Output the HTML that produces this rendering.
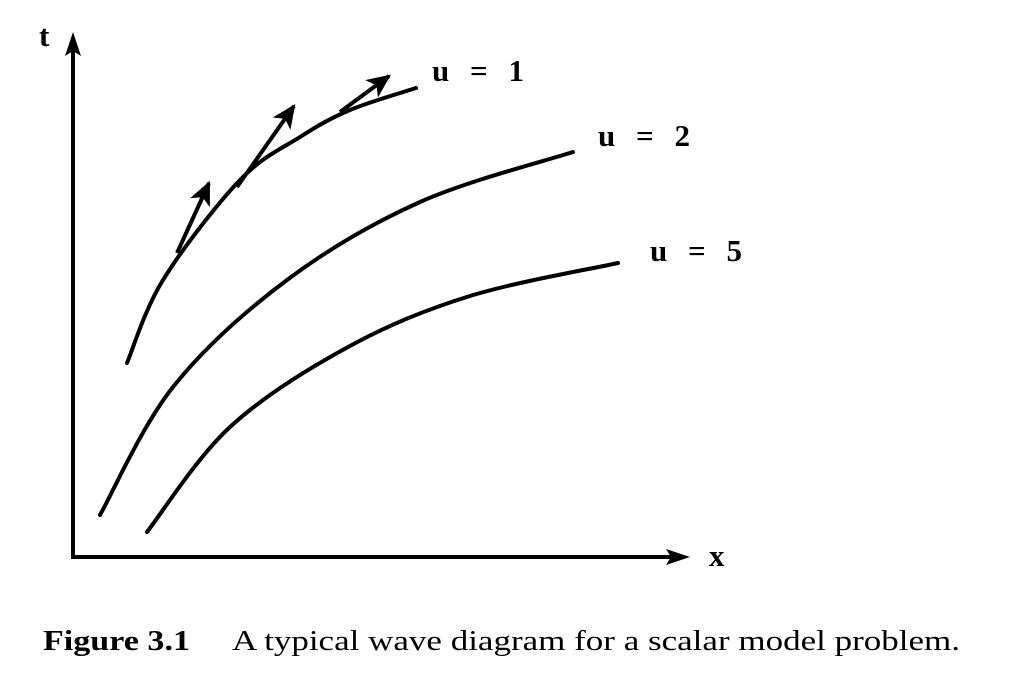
<!DOCTYPE html>
<html><head><meta charset="utf-8">
<style>
html,body{margin:0;padding:0;background:#fff;}
svg{display:block;}
text{font-family:"Liberation Serif",serif;fill:#000;}
</style></head>
<body>
<svg id="chart" width="1032" height="679" viewBox="0 0 1032 679" xmlns="http://www.w3.org/2000/svg">
  <defs>
    <marker id="ah" viewBox="0 0 10 10" refX="9" refY="5" markerWidth="6" markerHeight="6" orient="auto" markerUnits="strokeWidth">
      <path d="M0,0.5 L10,5 L0,9.5 L2.5,5 Z" fill="#000"/>
    </marker>
  </defs>
  <g id="axes">
    <line x1="73" y1="557" x2="73" y2="50" stroke="#000" stroke-width="4"/>
    <path d="M73,32 L81,56 L73,51 L65,56 Z" fill="#000"/>
    <line x1="71" y1="557" x2="675" y2="557" stroke="#000" stroke-width="4"/>
    <path d="M690,557 L666,549 L671,557 L666,565 Z" fill="#000"/>
    <text x="39" y="46" font-size="31" font-weight="bold">t</text>
    <text x="709" y="566" font-size="31" font-weight="bold">x</text>
  </g>
  <g id="curves"></g>
  <text x="43" y="650" font-size="29" font-weight="bold" textLength="147" lengthAdjust="spacingAndGlyphs">Figure 3.1</text>
  <text x="232" y="650" font-size="29" textLength="728" lengthAdjust="spacingAndGlyphs">A typical wave diagram for a scalar model problem.</text>
</svg>
<script>
// data coords: x = horizontal distance from origin, t = height above origin
const curveNames = ["u = 1", "u = 2", "u = 5"];
const curveU1X = [54, 90, 167, 227, 277, 343];
const curveU1T = [194, 277, 377, 420, 447, 469];
const curveU2X = [27, 100, 214, 347, 500];
const curveU2T = [42, 170, 277, 355, 405];
const curveU5X = [74, 157, 275, 397, 545];
const curveU5T = [25, 130, 210, 261, 294];
const labelX = [359, 525, 577];
const labelT = [476, 411, 296];
const arrowFromX = [104, 164, 267];
const arrowFromT = [304, 370, 445];
const arrowToX = [136, 221, 316];
const arrowToT = [374, 451, 481];

const ox = 73, oy = 557;
function sx(v){ return ox + v; }
function sy(v){ return oy - v; }

const g = document.getElementById('curves');
const NS = "http://www.w3.org/2000/svg";
function smoothPath(xs, ts){
  const p = xs.map((x,i)=>[sx(x), sy(ts[i])]);
  let d = "M" + p[0][0] + "," + p[0][1];
  for (let i=0;i<p.length-1;i++){
    const p0 = p[i-1]||p[i], p1=p[i], p2=p[i+1], p3=p[i+2]||p[i+1];
    const c1=[p1[0]+(p2[0]-p0[0])/6, p1[1]+(p2[1]-p0[1])/6];
    const c2=[p2[0]-(p3[0]-p1[0])/6, p2[1]-(p3[1]-p1[1])/6];
    d += " C"+c1[0]+","+c1[1]+" "+c2[0]+","+c2[1]+" "+p2[0]+","+p2[1];
  }
  return d;
}
const allX=[curveU1X,curveU2X,curveU5X], allT=[curveU1T,curveU2T,curveU5T];
const ids=["curve-u1","curve-u2","curve-u5"];
allX.forEach((xs,k)=>{
  const path=document.createElementNS(NS,'path');
  path.setAttribute('d', smoothPath(xs, allT[k]));
  path.setAttribute('fill','none');
  path.setAttribute('stroke','#000');
  path.setAttribute('stroke-width','4');
  path.setAttribute('stroke-linecap','round');
  path.setAttribute('stroke-linejoin','round');
  
  
  g.appendChild(path);
  const t=document.createElementNS(NS,'text');
  t.setAttribute('x', sx(labelX[k]));
  t.setAttribute('y', sy(labelT[k]));
  t.setAttribute('font-size','31');
  t.setAttribute('font-weight','bold');
  t.setAttribute('textLength','92');
  t.setAttribute('xml:space','preserve');
  t.textContent = curveNames[k].replace(/ /g,'  ');
  
  
  g.appendChild(t);
});
arrowFromX.forEach((x,i)=>{
  const l=document.createElementNS(NS,'line');
  l.setAttribute('x1', sx(x)); l.setAttribute('y1', sy(arrowFromT[i]));
  l.setAttribute('x2', sx(arrowToX[i])); l.setAttribute('y2', sy(arrowToT[i]));
  l.setAttribute('stroke','#000'); l.setAttribute('stroke-width','4');
  l.setAttribute('marker-end','url(#ah)');
  
  
  g.appendChild(l);
});
</script>
</body></html>
